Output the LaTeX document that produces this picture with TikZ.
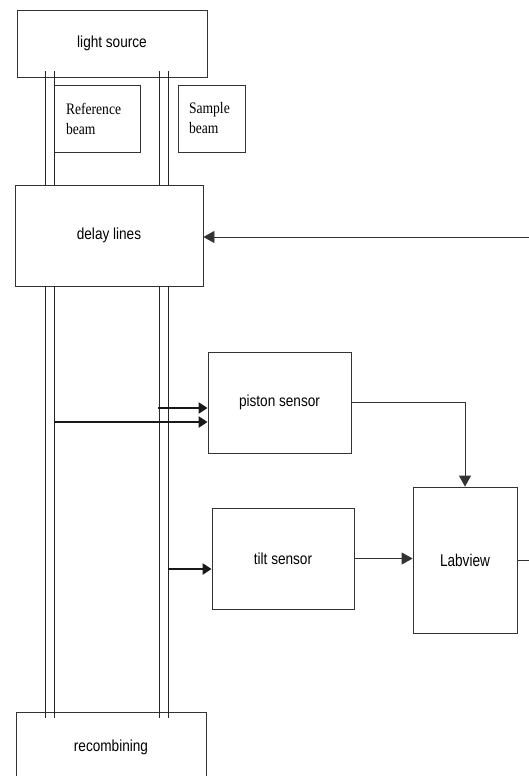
\documentclass[tikz,border=0pt]{standalone}
\usepackage{fontspec}
\setmainfont{Liberation Sans}
\newfontfamily\beamfamily{Liberation Serif}
\usetikzlibrary{arrows.meta, calc}
\newcommand{\narrowtxt}[1]{\scalebox{0.85}[1]{#1}}
\tikzset{
  block/.style={draw=black!80, line width=0.8pt, font=\fontsize{16}{19}\selectfont},
  beamtag/.style={block, align=left, font=\beamfamily\fontsize{16}{20}\selectfont},
  beam/.style={draw=black!85, line width=0.8pt},
  sig/.style={draw=black!80, line width=0.8pt, -{Triangle[length=11pt, width=12pt]}},
  tap/.style={draw=black!90, line width=2.6pt, -{Triangle[length=9pt, width=11pt]}}
}

\begin{document}
\begin{tikzpicture}[x=1pt, y=-1pt]
  \useasboundingbox (0,0) rectangle (529,776);
  % Boxes
  \node[block, minimum width=190pt, minimum height=67pt] (lightsrc) at (112,43.5) {\narrowtxt{light source}};
  \node[beamtag, minimum width=86pt, minimum height=67pt, text width=62pt, inner xsep=12pt] (refbeam) at (97,118.5) {\narrowtxt{Reference}\\\narrowtxt{beam}};
  \node[beamtag, minimum width=67pt, minimum height=67pt, text width=45pt, inner xsep=11pt] (sambeam) at (211.5,118.5) {\narrowtxt{Sample}\\\narrowtxt{beam}};
  \node[block, minimum width=188pt, minimum height=101pt] (delay) at (109,235.5) {\narrowtxt{delay lines}};
  \node[block, minimum width=143pt, minimum height=101pt] (piston) at (279.5,402.5) {\narrowtxt{piston sensor}};
  \node[block, minimum width=142pt, minimum height=101pt] (tilt) at (283,558.5) {\narrowtxt{tilt sensor}};
  \node[block, minimum width=104pt, minimum height=146pt, font=\fontsize{17}{20}\selectfont] (labview) at (465,560) {\scalebox{0.8}[1]{Labview}};
  \node[block, minimum width=190pt, minimum height=70pt] (recomb) at (111,747) {\narrowtxt{recombining}};
  % Beam paths (two lines each)
  \coordinate (refL) at (45,0);
  \coordinate (refR) at (54,0);
  \coordinate (samL) at (159,0);
  \coordinate (samR) at (168,0);
  \foreach \bx in {refL,refR,samL,samR} {
    \draw[beam, shorten <=-6pt] (lightsrc.south -| \bx) -- (delay.north -| \bx);
    \draw[beam, shorten >=-6pt] (delay.south -| \bx) -- (recomb.north -| \bx);
  }
  % Pick-offs to the sensors
  \coordinate (tapA) at (158,408);
  \coordinate (tapB) at (54,422);
  \coordinate (tapC) at (168,569);
  \draw[tap] (tapA) -- (tapA -| piston.west);
  \draw[tap] (tapB) -- (tapB -| piston.west);
  \draw[tap] (tapC) -- (tapC -| tilt.west);
  % Signals
  \coordinate (ctrlin) at (529,237);
  \coordinate (labout) at (529,560);
  \draw[sig] (piston.east) -| (labview.north);
  \draw[sig] (tilt.east) -- (tilt.east -| labview.west);
  \draw[sig] (ctrlin) -- (ctrlin -| delay.east);
  \draw[draw=black!80, line width=0.8pt] (labview.east) -- (labout);
\end{tikzpicture}
\end{document}
